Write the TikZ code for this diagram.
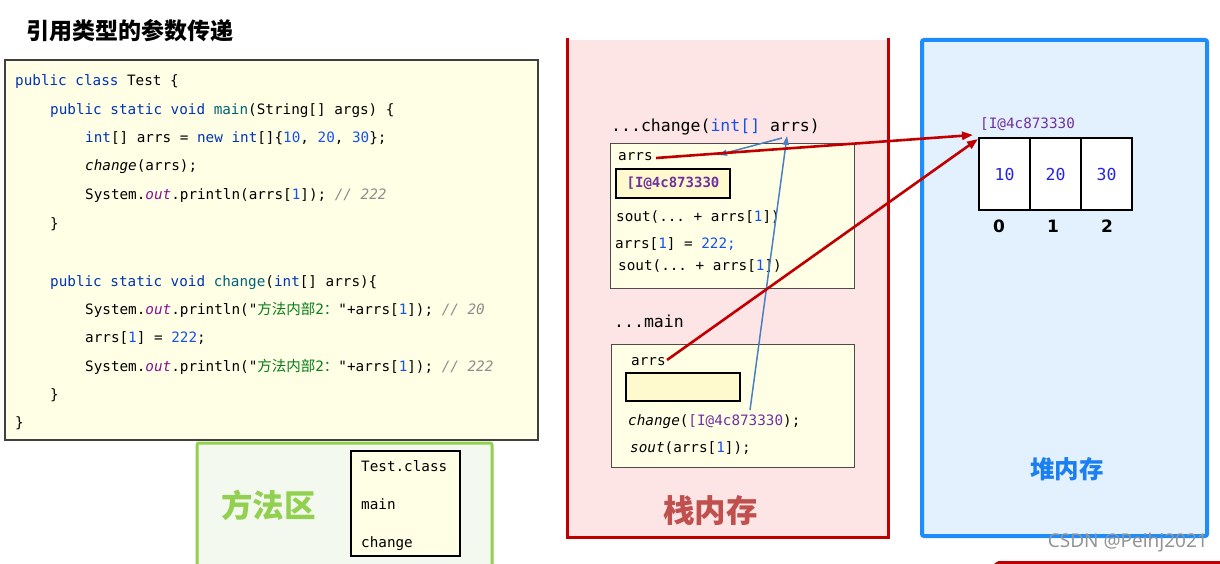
\documentclass[tikz,border=0pt]{standalone}
\usepackage{fontspec}
\setmainfont{DejaVu Sans}
\setsansfont{DejaVu Sans}
\setmonofont{DejaVu Sans Mono}
\newfontfamily\cjk{Noto Sans CJK SC}
\newfontfamily\notosans{Noto Sans}
\usetikzlibrary{arrows.meta}
\definecolor{jkw}{HTML}{0033B3}
\definecolor{jfn}{HTML}{00627A}
\definecolor{jnum}{HTML}{1750EB}
\definecolor{jout}{HTML}{871094}
\definecolor{jstr}{HTML}{067D17}
\definecolor{jcmt}{HTML}{8C8C8C}
\definecolor{addr}{HTML}{7030A0}
\definecolor{codefill}{HTML}{FFFFE6}
\definecolor{valfill}{HTML}{FFFACD}
\definecolor{stackfill}{HTML}{FDE4E5}
\definecolor{stackline}{HTML}{C00000}
\definecolor{stacktext}{HTML}{C0504D}
\definecolor{heapfill}{HTML}{E3F0FD}
\definecolor{heapline}{HTML}{1E8CFA}
\definecolor{heaptext}{HTML}{1A7FF0}
\definecolor{methfill}{HTML}{F3F9EE}
\definecolor{methline}{HTML}{92D050}
\definecolor{arrblue}{HTML}{4A80C0}
\definecolor{cellnum}{HTML}{2525E0}
\newcommand{\jk}[1]{\textcolor{jkw}{#1}}
\newcommand{\jf}[1]{\textcolor{jfn}{#1}}
\newcommand{\jn}[1]{\textcolor{jnum}{#1}}
\newcommand{\jo}[1]{\textcolor{jout}{\itshape #1}}
\newcommand{\js}[1]{\textcolor{jstr}{#1}}
\newcommand{\jc}[1]{\textcolor{jcmt}{\itshape #1}}
\newcommand{\ja}[1]{\textcolor{addr}{#1}}
\newcommand{\zh}[1]{{\cjk\fontsize{14.5}{16}\selectfont #1}}
\begin{document}
\begin{tikzpicture}[x=1pt,y=-1pt,
  code/.style={anchor=base west,inner sep=0pt,font=\ttfamily\fontsize{14.3}{16}\selectfont},
  sig/.style={anchor=base west,inner sep=0pt,font=\ttfamily\fontsize{16.5}{18}\selectfont},
  frame/.style={draw=black!70,fill=codefill,line width=1pt,inner sep=0pt,outer sep=0pt},
  valbox/.style={draw=black,fill=valfill,line width=1.2pt,inner sep=0pt,outer sep=0pt},
  cell/.style={draw=black,fill=white,line width=2pt,minimum width=51pt,minimum height=72pt,inner sep=0pt,outer sep=0pt,font=\ttfamily\fontsize{16.5}{18}\selectfont,text=cellnum},
  idx/.style={inner sep=0pt,font=\sffamily\bfseries\fontsize{17}{18}\selectfont},
  redarrow/.style={draw=stackline,line width=2.6pt,-{Triangle[length=11pt,width=8pt]}},
  bluearrow/.style={draw=arrblue,line width=1.5pt,-{Triangle[length=9pt,width=6pt]}},
  bigcjk/.style={inner sep=0pt,font=\cjk\bfseries\fontsize{31.5}{33}\selectfont}
]
\useasboundingbox (0,0) rectangle (1220,564);
% title
\node[anchor=west,inner sep=0pt,font=\cjk\bfseries\fontsize{23}{24}\selectfont] (title) at (26,31) {引用类型的参数传递};
% code box
\node[draw=black!75,fill=codefill,line width=1.2pt,minimum width=533pt,minimum height=380pt,inner sep=0pt,outer sep=0pt] (codebox) at (271.5,250) {};
\node[code] (c1) at (15,86) {\jk{public class} Test \{};
\node[code] (c2) at (50,115) {\jk{public static void} \jf{main}(String[] args) \{};
\node[code] (c3) at (85,143) {\jk{int}[] arrs = \jk{new int}[]\{\jn{10}, \jn{20}, \jn{30}\};};
\node[code] (c4) at (85,171) {{\itshape change}(arrs);};
\node[code] (c5) at (85,200) {System.\jo{out}.println(arrs[\jn{1}]); \jc{// 222}};
\node[code] (c6) at (50,228) {\}};
\node[code] (c7) at (50,286) {\jk{public static void} \jf{change}(\jk{int}[] arrs)\{};
\node[code] (c8) at (85,314) {System.\jo{out}.println("\js{\zh{方法内部}2\zh{：}}"+arrs[\jn{1}]); \jc{// 20}};
\node[code] (c9) at (85,342) {arrs[\jn{1}] = \jn{222};};
\node[code] (c10) at (85,371) {System.\jo{out}.println("\js{\zh{方法内部}2\zh{：}}"+arrs[\jn{1}]); \jc{// 222}};
\node[code] (c11) at (50,399) {\}};
\node[code] (c12) at (15,427) {\}};
% method area
\fill[methfill] (197,443) rectangle (492,564);
\draw[methline,line width=3pt,rounded corners=2pt] (197,566) -- (197,443) -- (492,443) -- (492,566);
\node[bigcjk,text=methline,anchor=west] (methlbl) at (221,505) {方法区};
\node[frame,draw=black,line width=1.2pt,minimum width=109pt,minimum height=105pt] (classbox) at (405.5,503.5) {};
\node[code] (m1) at (361,471) {Test.class};
\node[code] (m2) at (361,509) {main};
\node[code] (m3) at (361,547) {change};
% stack
\fill[stackfill] (567,40) rectangle (888,537);
\draw[stackline,line width=3pt] (567,38) -- (567,537) -- (888,537) -- (888,38);
\node[bigcjk,text=stacktext,anchor=west] (stacklbl) at (663,511) {栈内存};
\node[sig] (sigchg) at (611,132) {...change(\textcolor{jnum}{int[]} arrs)};
\node[frame,minimum width=244pt,minimum height=144pt] (fchg) at (732,216) {};
\node[code] (carrs) at (618,161) {arrs};
\node[valbox,minimum width=114pt,minimum height=29pt,font=\ttfamily\bfseries\fontsize{14}{16}\selectfont,text=addr] (cval) at (673,183.5) {[I@4c873330};
\node[code] (cs1) at (616,221) {sout(... + arrs[\jn{1}])};
\node[code] (cs2) at (615,248) {arrs[\jn{1}] = \jn{222;}};
\node[code] (cs3) at (618,270) {sout(... + arrs[\jn{1}])};
\node[sig] (sigmain) at (614,327) {...main};
\node[frame,minimum width=243pt,minimum height=123pt] (fmain) at (732.5,405.5) {};
\node[code] (marrs) at (631,365) {arrs};
\node[valbox,minimum width=114pt,minimum height=28pt] (mval) at (683,387) {};
\node[code] (mchg) at (628,425) {{\itshape change}(\ja{[I@4c873330});};
\node[code] (msout) at (630,452) {{\itshape sout}(arrs[\jn{1}]);};
% heap
\draw[heapline,fill=heapfill,line width=4pt,rounded corners=2pt] (922,40) rectangle (1207,536);
\node[inner sep=0pt,font=\cjk\bfseries\fontsize{24.5}{26}\selectfont,text=heaptext] (heaplbl) at (1067,469) {堆内存};
\node[code,text=addr] (haddr) at (980,129) {[I@4c873330};
\node[cell] (cell0) at (1004.5,174) {10};
\node[cell] (cell1) at (1055.5,174) {20};
\node[cell] (cell2) at (1106.5,174) {30};
\node[idx] (i0) at (999,226) {0};
\node[idx] (i1) at (1053,226) {1};
\node[idx] (i2) at (1107,226) {2};
% watermark and bottom-right fragment
\node[anchor=east,inner sep=0pt,font=\notosans\fontsize{19}{20}\selectfont,text=black!42] (wm) at (1208,543) {CSDN @Peihj2021};
\draw[stackline,line width=3pt,rounded corners=2pt] (995,566) -- (997,562.5) -- (1222,562.5);
% connectors
\coordinate (r1s) at (656,158);
\coordinate (r1e) at (973,135);
\coordinate (r2s) at (667,360);
\coordinate (r2e) at (978,139);
\coordinate (b1s) at (750,410);
\coordinate (b1e) at (787,136);
\coordinate (b2s) at (782,138);
\coordinate (b2e) at (718,155);
\draw[bluearrow] (b1s) -- (b1e);
\draw[bluearrow] (b2s) -- (b2e);
\draw[redarrow] (r1s) -- (r1e);
\draw[redarrow] (r2s) -- (r2e);
\end{tikzpicture}
\end{document}
